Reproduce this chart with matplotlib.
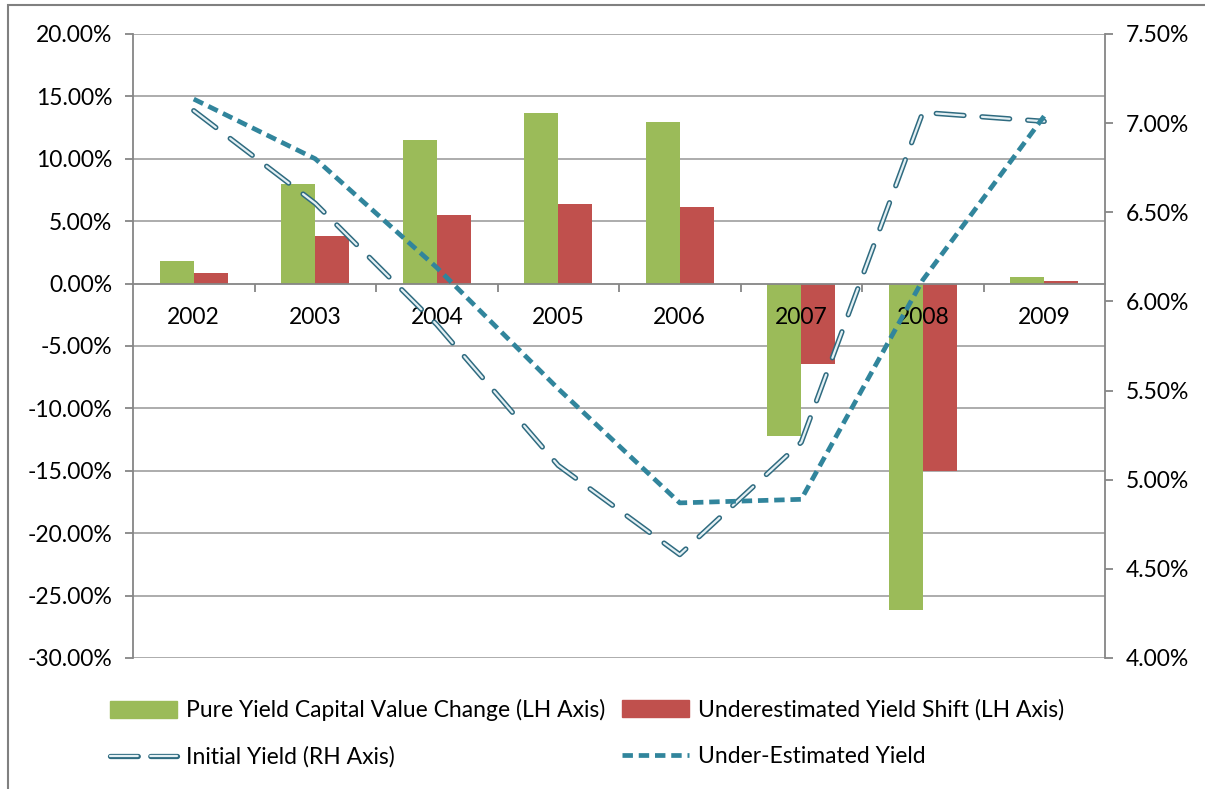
import matplotlib
matplotlib.use('Agg')
import matplotlib.pyplot as plt
import numpy as np
from matplotlib.patches import Rectangle, Patch
from matplotlib.lines import Line2D

plt.rcParams['font.family'] = ['Lato', 'DejaVu Sans']
plt.rcParams['lines.scale_dashes'] = False

years = ['2002', '2003', '2004', '2005', '2006', '2007', '2008', '2009']
pure_change = [1.8, 7.96, 11.5, 13.7, 12.95, -12.2, -26.15, 0.5]
yield_shift = [0.83, 3.81, 5.47, 6.38, 6.14, -6.47, -15.04, 0.22]
initial_yield = [7.07, 6.55, 5.87, 5.08, 4.58, 5.21, 7.06, 7.01]
under_yield = [7.135, 6.80, 6.19, 5.51, 4.87, 4.89, 6.12, 7.04]

green = '#9BBB59'
red = '#C0504D'
teal = '#31859C'
dark = '#2F6B80'
grey = '#A6A6A6'
fs = 16.5

fig = plt.figure(figsize=(12.05, 7.89), dpi=100)
ax = fig.add_axes([133 / 1205, 1 - 658 / 789, (1105 - 133) / 1205, 624 / 789])

x = np.arange(len(years))
w = 0.28
ax.bar(x - w / 2, pure_change, w, color=green, zorder=2)
ax.bar(x + w / 2, yield_shift, w, color=red, zorder=2)

ax.set_xlim(-0.5, 7.5)
ax.set_ylim(-30, 20)
yt = np.arange(-30, 21, 5)
ax.set_yticks(yt)
ax.yaxis.set_major_formatter(lambda v, p: f'{v:.2f}%')
# gridlines kept under the bars, tick labels stay above them
ax.set_axisbelow(False)
for v in yt:
    if v != 0:
        ax.axhline(v, color=grey, lw=1.3, zorder=0.5)
for s in ['top', 'right']:
    ax.spines[s].set_visible(False)
ax.spines['left'].set_color('#868686')
ax.spines['left'].set_linewidth(1.3)
ax.spines['bottom'].set_position(('data', 0))
ax.spines['bottom'].set_color('#868686')
ax.spines['bottom'].set_linewidth(1.3)
ax.spines['bottom'].set_zorder(3)

ax.set_xticks(x, years)
ax.set_xticks(np.arange(0.5, 7.5, 1), minor=True)
ax.tick_params(axis='x', which='major', length=0, pad=17, labelsize=fs, colors='black')
ax.tick_params(axis='x', which='minor', length=6, width=1.3, color='#868686')
ax.tick_params(axis='y', length=6, width=1.3, color='#868686', pad=9, labelsize=fs)

ax2 = ax.twinx()
ax2.set_ylim(4, 7.5)
ax2.set_yticks(np.arange(4, 7.51, 0.5))
ax2.yaxis.set_major_formatter(lambda v, p: f'{v:.2f}%')
ax2.tick_params(axis='y', length=6, width=1.3, color='#868686', pad=9, labelsize=fs)
for s in ['top', 'left', 'bottom']:
    ax2.spines[s].set_visible(False)
ax2.spines['right'].set_color('#868686')
ax2.spines['right'].set_linewidth(1.3)

init_dash = (0, (20, 13))
l_out, = ax2.plot(x, initial_yield, color=dark, lw=3.8, linestyle=init_dash,
                  dash_capstyle='round', zorder=4)
l_in, = ax2.plot(x, initial_yield, color='#E4F0F4', lw=1.6, linestyle=init_dash,
                 dash_capstyle='round', zorder=5)
under_dash = (0, (7.5, 4.2))
l_under, = ax2.plot(x, under_yield, color=teal, lw=3.4, linestyle=under_dash,
                    dash_capstyle='butt', zorder=6)

# legend, two columns placed like the original
h_out = Line2D([], [], color=dark, lw=3.8, linestyle=(0, (20, 9)), dash_capstyle='round')
h_in = Line2D([], [], color='#E4F0F4', lw=1.6, linestyle=(0, (20, 9)), dash_capstyle='round')
h_under = Line2D([], [], color=teal, lw=3.4, linestyle=under_dash)
kw = dict(loc='upper left', frameon=False, fontsize=fs, handlelength=2.9,
          handleheight=0.8, handletextpad=0.4, labelspacing=1.1, borderaxespad=0)
leg1 = fig.legend([Patch(color=green), (h_out, h_in)],
                  ['Pure Yield Capital Value Change (LH Axis)', 'Initial Yield (RH Axis)'],
                  bbox_to_anchor=(101 / 1205, 1 - 690 / 789), **kw)
leg2 = fig.legend([Patch(color=red), h_under],
                  ['Underestimated Yield Shift (LH Axis)', 'Under-Estimated Yield'],
                  bbox_to_anchor=(613 / 1205, 1 - 690 / 789), **kw)

fig.add_artist(Rectangle((8 / 1205, -0.05), 1.5, (789 - 5) / 789 + 0.05,
                         transform=fig.transFigure, fill=False, ec='#808080', lw=1.5))

fig.savefig('out.png', dpi=100)
